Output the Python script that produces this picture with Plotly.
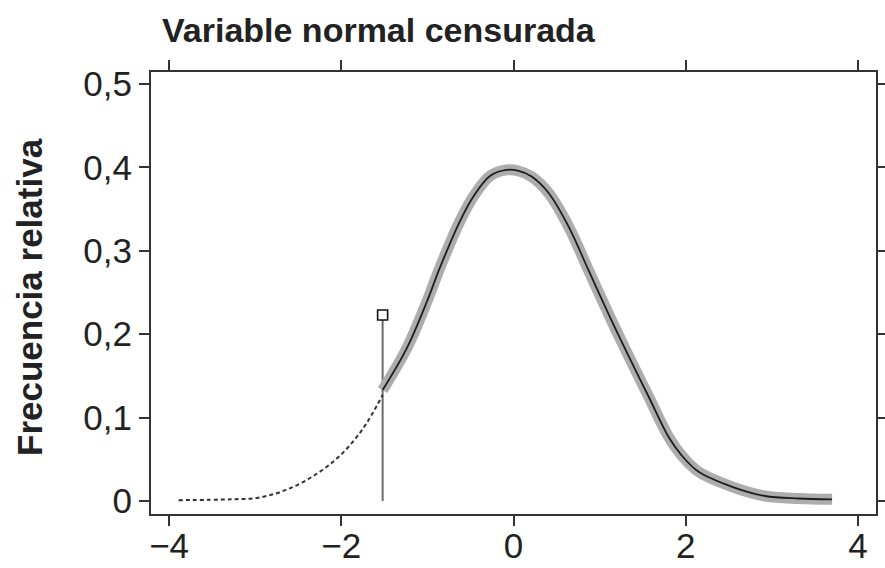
import plotly.graph_objects as go

# Kernel-density-like curve of the observed (uncensored) part
kde_x = [-1.52, -1.24, -1.01, -0.85, -0.62, -0.46, -0.27, -0.08, 0.05, 0.21, 0.41,
         0.64, 0.87, 1.10, 1.34, 1.57, 1.80, 1.95, 2.15, 2.54, 2.92, 3.31, 3.70]
kde_y = [0.133, 0.183, 0.238, 0.281, 0.336, 0.366, 0.390, 0.397, 0.396, 0.389, 0.369,
         0.329, 0.277, 0.225, 0.173, 0.125, 0.077, 0.055, 0.035, 0.017, 0.006, 0.003, 0.002]

# Dotted normal tail below the censoring point
tail_x = [-3.89, -3.28, -2.96, -2.65, -2.34, -2.03, -1.76, -1.52]
tail_y = [0.001, 0.002, 0.004, 0.013, 0.029, 0.053, 0.085, 0.127]

# Censoring spike
cens_x = [-1.52, -1.52]
cens_y = [0.0, 0.223]

x_ticks = [-4, -2, 0, 2, 4]
y_ticks = [0, 0.1, 0.2, 0.3, 0.4, 0.5]

FONT = "Liberation Sans, Arial, Helvetica, sans-serif"
TXT = "#222222"
AX = "#333333"

fig = go.Figure()
fig.add_trace(go.Scatter(x=cens_x, y=cens_y, mode="lines",
                         line=dict(color="#6a6a6a", width=2), hoverinfo="skip"))
fig.add_trace(go.Scatter(x=tail_x, y=tail_y, mode="lines", line_shape="spline",
                         line=dict(color="#333333", width=2, dash="4px,3px")))
fig.add_trace(go.Scatter(x=kde_x, y=kde_y, mode="lines", line_shape="spline",
                         line=dict(color="#adadad", width=11)))
fig.add_trace(go.Scatter(x=kde_x, y=kde_y, mode="lines", line_shape="spline",
                         line=dict(color="#1e1e1e", width=1.8)))
fig.add_trace(go.Scatter(x=[cens_x[1]], y=[cens_y[1]], mode="markers",
                         marker=dict(symbol="square", size=10, color="white",
                                     line=dict(color="#111111", width=1.6))))

axis_common = dict(
    showgrid=False, zeroline=False, showline=True, linewidth=2, linecolor=AX,
    mirror="ticks", ticks="outside", ticklen=10, tickwidth=2, tickcolor=AX,
    automargin=False,
    tickfont=dict(family=FONT, size=35, color=TXT),
)

fig.update_layout(
    width=885, height=568, autosize=False,
    margin=dict(l=151, r=9, t=72, b=54),
    paper_bgcolor="white", plot_bgcolor="white",
    separators=",.",
    showlegend=False,
    xaxis=dict(range=[-4.21, 4.21], tickvals=x_ticks, ticklabelstandoff=-10, **axis_common),
    yaxis=dict(range=[-0.0156, 0.5144], tickvals=y_ticks, **axis_common),
    annotations=[
        dict(text="<b>Variable normal censurada</b>", xref="paper", yref="paper",
             x=(160 - 151) / 725, y=1 + (72 - 30) / 442, xanchor="left", yanchor="middle",
             showarrow=False, font=dict(family=FONT, size=34, color=TXT)),
        dict(text="<b>Frecuencia relativa</b>", xref="paper", yref="paper",
             x=(29 - 151) / 725, y=(514 - 297) / 442, xanchor="center", yanchor="middle",
             textangle=-90, showarrow=False, font=dict(family=FONT, size=35, color=TXT)),
    ],
)

fig.write_html("out.html", config={"responsive": False})
